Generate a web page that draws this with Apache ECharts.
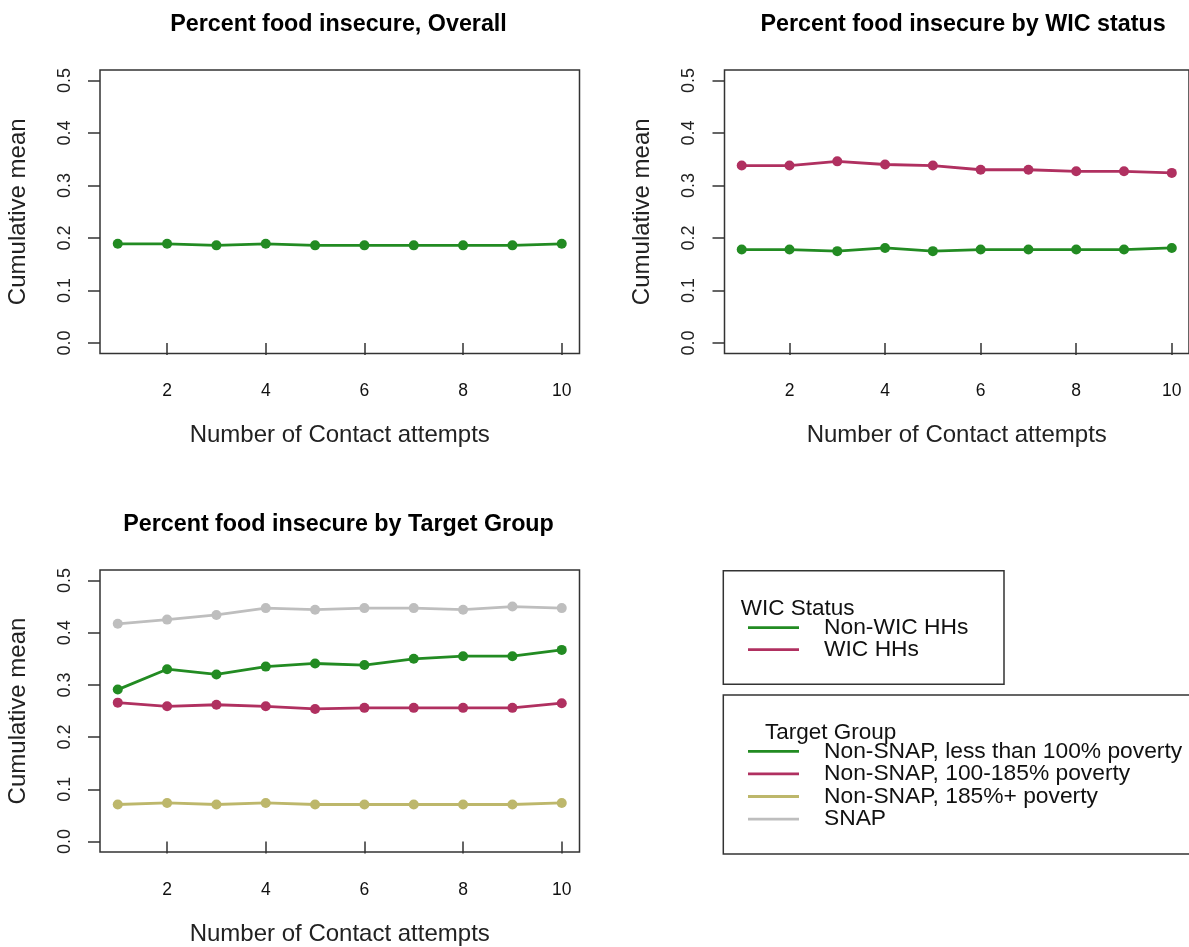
<!DOCTYPE html>
<html>
<head>
<meta charset="utf-8">
<script src="https://cdn.jsdelivr.net/npm/echarts@6/dist/echarts.min.js"></script>
<style>
  html, body { margin: 0; padding: 0; background: #fff; }
  #chart { width: 1189px; height: 947px; }
</style>
</head>
<body>
<div id="chart"></div>
<script>
// contact attempts (x) and tick values
const attempts = [1, 2, 3, 4, 5, 6, 7, 8, 9, 10];
const xTicks = [2, 4, 6, 8, 10];
const yTicks = [0, 0.1, 0.2, 0.3, 0.4, 0.5];

// panel 1: overall
const overall = [0.189, 0.189, 0.186, 0.189, 0.186, 0.186, 0.186, 0.186, 0.186, 0.189];

// panel 2: by WIC status
const wicNames = ['Non-WIC HHs', 'WIC HHs'];
const nonWic = [0.178, 0.178, 0.175, 0.181, 0.175, 0.178, 0.178, 0.178, 0.178, 0.181];
const wic = [0.338, 0.338, 0.346, 0.340, 0.338, 0.330, 0.330, 0.327, 0.327, 0.324];

// panel 3: by target group
const targetNames = ['Non-SNAP, less than 100% poverty', 'Non-SNAP, 100-185% poverty',
  'Non-SNAP, 185%+ poverty', 'SNAP'];
const below100 = [0.291, 0.330, 0.320, 0.335, 0.341, 0.338, 0.350, 0.355, 0.355, 0.367];
const pov100to185 = [0.266, 0.259, 0.262, 0.259, 0.254, 0.256, 0.256, 0.256, 0.256, 0.265];
const pov185plus = [0.071, 0.074, 0.071, 0.074, 0.071, 0.071, 0.071, 0.071, 0.071, 0.074];
const snap = [0.417, 0.425, 0.434, 0.447, 0.444, 0.447, 0.447, 0.444, 0.450, 0.447];

const titles = ['Percent food insecure, Overall', 'Percent food insecure by WIC status',
  'Percent food insecure by Target Group'];

const GREEN = '#228B22', MAROON = '#B03060', KHAKI = '#BDB76B', GRAY = '#BEBEBE';
const FONT = '"Liberation Sans", Arial, sans-serif';
const INK = '#333';

const grids = [
  { left: 100, top: 70, width: 479.5, height: 283.5 },
  { left: 724.5, top: 70, width: 480, height: 283.5 },
  { left: 100, top: 570, width: 479.5, height: 283.5 }
];

function xAxisFor(i) {
  return {
    gridIndex: i, type: 'value', min: 0.64, max: 10.36,
    name: 'Number of Contact attempts', nameLocation: 'middle', nameGap: 70,
    nameTextStyle: { fontFamily: FONT, fontSize: 24, color: '#222' },
    axisLine: { show: false },
    splitLine: { show: false },
    axisTick: { show: true, length: 12, customValues: xTicks, lineStyle: { color: INK, width: 1.5 } },
    axisLabel: { customValues: xTicks, margin: 29, fontFamily: FONT, fontSize: 17.5, color: '#111' }
  };
}
function yAxisFor(i) {
  return {
    gridIndex: i, type: 'value', min: -0.02, max: 0.52,
    name: 'Cumulative mean', nameLocation: 'middle', nameGap: 70, nameRotate: 90,
    nameTextStyle: { fontFamily: FONT, fontSize: 24, color: '#222' },
    axisLine: { show: false },
    splitLine: { show: false },
    axisTick: { show: true, length: 12, customValues: yTicks, lineStyle: { color: INK, width: 1.5 } },
    axisLabel: { customValues: yTicks, rotate: 90, margin: 26, fontFamily: FONT, fontSize: 18, color: '#222',
      formatter: v => v.toFixed(1) }
  };
}
function line(name, vals, color, i) {
  return {
    name, type: 'line', xAxisIndex: i, yAxisIndex: i,
    data: attempts.map((x, k) => [x, vals[k]]),
    symbol: 'circle', symbolSize: 10, showSymbol: true,
    lineStyle: { color, width: 2.8 }, itemStyle: { color },
    emphasis: { disabled: true }
  };
}

// legend boxes (graphic)
function legendBlock(x, y, w, h, title, titleX, titleY, names, colors, firstY, step) {
  const els = [
    { type: 'rect', shape: { x, y, width: w, height: h }, style: { fill: 'none', stroke: INK, lineWidth: 1.5 } },
    { type: 'text', x: titleX, y: titleY, style: { text: title, font: '22.5px ' + FONT, fill: '#111', verticalAlign: 'middle' } }
  ];
  names.forEach((n, k) => {
    const yy = firstY + k * step;
    els.push({ type: 'line', shape: { x1: 748, y1: yy, x2: 799, y2: yy }, style: { stroke: colors[k], lineWidth: 2.8 } });
    els.push({ type: 'text', x: 824, y: yy, style: { text: n, font: '22.8px ' + FONT, fill: '#111', verticalAlign: 'middle' } });
  });
  return els;
}

const chart = echarts.init(document.getElementById('chart'), null, { renderer: 'canvas' });
chart.setOption({
  animation: false,
  backgroundColor: '#fff',
  title: [
    { text: titles[0], left: 338.5, top: 13, textAlign: 'center', padding: 0 },
    { text: titles[1], left: 963, top: 13, textAlign: 'center', padding: 0 },
    { text: titles[2], left: 338.5, top: 513, textAlign: 'center', padding: 0 }
  ].map(t => Object.assign(t, { textStyle: { fontFamily: FONT, fontSize: 23.3, fontWeight: 'bold', color: '#000', lineHeight: 24 } })),
  grid: grids.map(g => Object.assign({ show: true, borderColor: INK, borderWidth: 1.5, backgroundColor: 'transparent' }, g)),
  xAxis: [0, 1, 2].map(xAxisFor),
  yAxis: [0, 1, 2].map(yAxisFor),
  series: [
    line('Overall', overall, GREEN, 0),
    line(wicNames[0], nonWic, GREEN, 1),
    line(wicNames[1], wic, MAROON, 1),
    line(targetNames[3], snap, GRAY, 2),
    line(targetNames[2], pov185plus, KHAKI, 2),
    line(targetNames[1], pov100to185, MAROON, 2),
    line(targetNames[0], below100, GREEN, 2)
  ],
  graphic: [].concat(
    legendBlock(723.3, 570.7, 280.7, 113.6, 'WIC Status', 740.7, 609, wicNames, [GREEN, MAROON], 627.7, 22),
    legendBlock(723.3, 695, 500, 159, 'Target Group', 765, 732.7, targetNames, [GREEN, MAROON, KHAKI, GRAY], 751.3, 22.6)
  )
});
</script>
</body>
</html>
